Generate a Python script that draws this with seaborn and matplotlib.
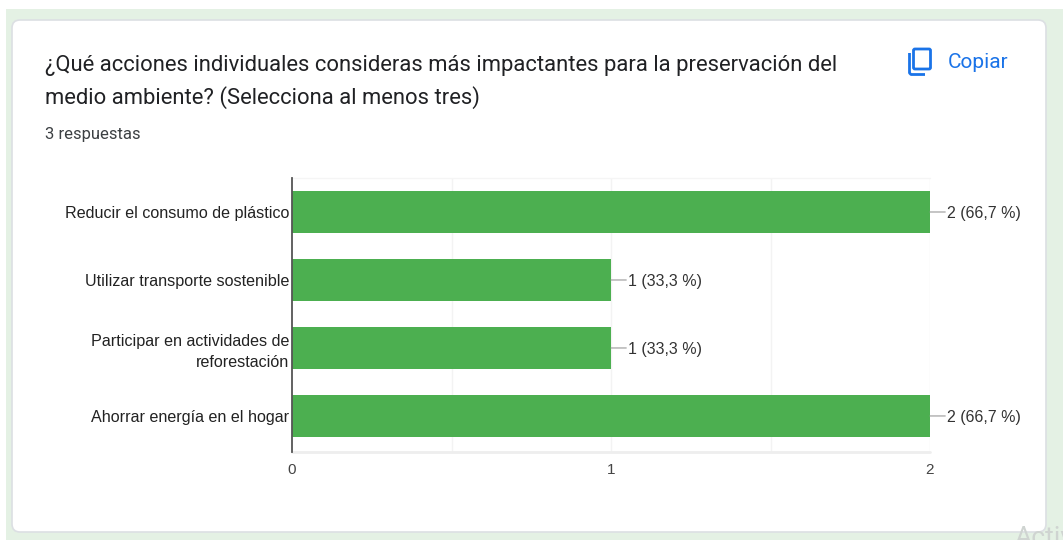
import matplotlib
matplotlib.use('Agg')
import matplotlib.pyplot as plt
from matplotlib.patches import FancyBboxPatch, Rectangle
import seaborn as sns
import pandas as pd

# --- Datos de la encuesta --- #
acciones = ['Reducir el consumo de plástico', 'Utilizar transporte sostenible',
            'Participar en actividades de\nreforestación', 'Ahorrar energía en el hogar']
respuestas = [2, 1, 1, 2]
etiquetas = ['2 (66,7 %)', '1 (33,3 %)', '1 (33,3 %)', '2 (66,7 %)']
marcas_x = [0, 1, 2]
lineas_guia = [0.5, 1, 1.5, 2]

titulo_1 = '¿Qué acciones individuales consideras más impactantes para la preservación del'
titulo_2 = 'medio ambiente? (Selecciona al menos tres)'
subtitulo = '3 respuestas'

df = pd.DataFrame({'accion': acciones, 'respuestas': respuestas})

W, H = 1063, 540
sns.set_theme(style='white')
plt.rcParams['font.family'] = ['Liberation Sans', 'DejaVu Sans']

fig = plt.figure(figsize=(W / 100, H / 100), dpi=100, facecolor='white')

# --- Fondo y tarjeta (coordenadas en píxeles) --- #
bg = fig.add_axes([0, 0, 1, 1])
bg.set_xlim(0, W)
bg.set_ylim(H, 0)
bg.axis('off')
bg.add_patch(Rectangle((6, 9), W - 6, H - 9, facecolor='#e4f1e4', edgecolor='none'))
bg.add_patch(FancyBboxPatch((20, 28), 1018, 496, boxstyle='round,pad=8,rounding_size=8',
                            facecolor='white', edgecolor='#dcdfe3', linewidth=1.2))

bg.text(45, 65.5, titulo_1, fontsize=15.85, color='#202124', family='Roboto', va='center')
bg.text(45, 97.5, titulo_2, fontsize=15.85, color='#202124', family='Roboto', va='center')
bg.text(45, 134, subtitulo, fontsize=12, color='#3c4043', family='Roboto', va='center')

# Icono y texto de copiar
azul = '#1a73e8'
bg.add_patch(FancyBboxPatch((913.5, 49), 17, 20, boxstyle='round,pad=0,rounding_size=1.5',
                            facecolor='none', edgecolor=azul, linewidth=2))
bg.plot([909.5, 909.5, 911, 925], [53, 73, 74.5, 74.5], color=azul, lw=2, solid_capstyle='butt')
bg.text(948, 62, 'Copiar', fontsize=15, color=azul, family='Roboto', va='center')

# Marca de agua recortada
bg.text(1015, 550, 'Activ', fontsize=19, color='#cfd4d1', family='Roboto', va='bottom',
        clip_on=True)

# --- Gráfico de barras --- #
x0, x1, y0, y1 = 292, 930, 178, 452
ax = fig.add_axes([x0 / W, 1 - y1 / H, (x1 - x0) / W, (y1 - y0) / H])
ax.patch.set_alpha(0)
ax.set_axisbelow(True)
sns.barplot(data=df, x='respuestas', y='accion', color='#4caf50', saturation=1,
            width=0.63, linewidth=0, ax=ax)
ax.set_xlim(0, 2)
ax.set_ylim(3.53, -0.5)
ax.set_xlabel('')
ax.set_ylabel('')

for v in lineas_guia:
    ax.axvline(v, color='#f3f3f3', lw=1, zorder=0)
ax.axhline(3.53, color='#eeeeee', lw=2, zorder=0, clip_on=False)
ax.axhline(-0.5, color='#f5f5f5', lw=1, zorder=0, clip_on=False)

ax.set_xticks(marcas_x)
ax.set_xticklabels(marcas_x, fontsize=11, color='#444444')
ax.tick_params(axis='x', length=0, pad=8)
ax.tick_params(axis='y', length=0, pad=2, labelsize=11.6, labelcolor='#222222')
for lab in ax.get_yticklabels():
    lab.set_multialignment('right')
    lab.set_linespacing(1.45)

for s in ['top', 'right', 'bottom']:
    ax.spines[s].set_visible(False)
ax.spines['left'].set_color('#555555')
ax.spines['left'].set_linewidth(1.3)

for i, (v, txt) in enumerate(zip(respuestas, etiquetas)):
    ax.annotate('', xy=(v, i), xytext=(11, 0), textcoords='offset points', annotation_clip=False,
                arrowprops=dict(arrowstyle='-', color='#999999', lw=0.8, shrinkA=0, shrinkB=0))
    ax.annotate(txt, xy=(v, i), xytext=(12, -1), textcoords='offset points',
                va='center', ha='left', fontsize=11.5, color='#333333', annotation_clip=False)

fig.savefig('out.png', dpi=100)
